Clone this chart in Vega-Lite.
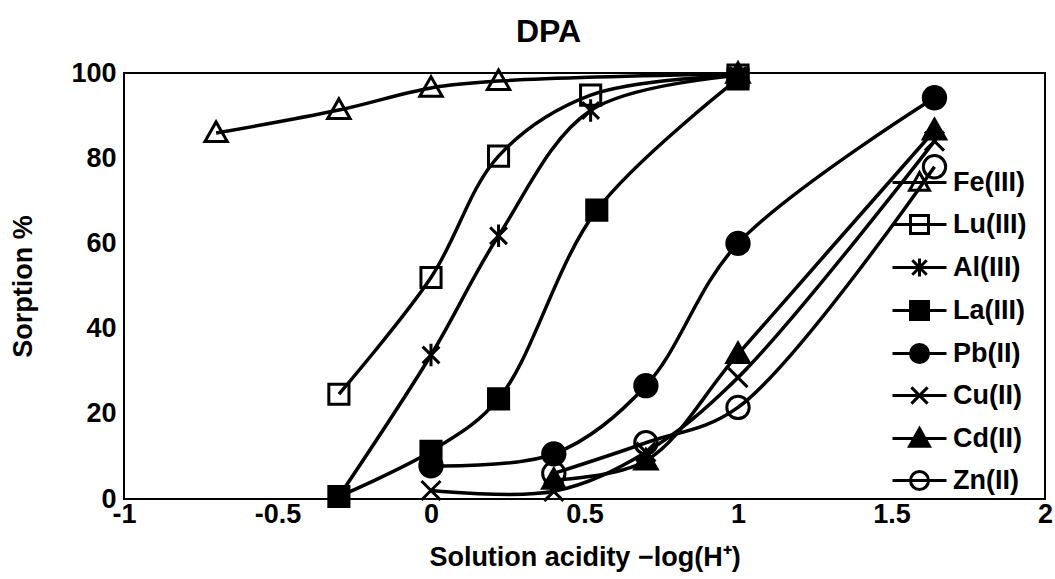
{
  "$schema": "https://vega.github.io/schema/vega-lite/v6.json",
  "width": 921,
  "height": 426,
  "autosize": {"type": "none"},
  "padding": {"left": 124, "top": 73, "right": 10, "bottom": 80},
  "background": "white",
  "title": {"text": "DPA", "fontSize": 32, "fontWeight": "bold", "font": "Liberation Sans", "color": "black", "anchor": "middle", "dx": -36, "offset": 8},
  "config": {"view": {"stroke": "black", "strokeWidth": 2}, "font": "Liberation Sans"},
  "data": {"values": [
    {"metal": "Fe(III)", "x": -0.7, "y": 85.9},
    {"metal": "Fe(III)", "x": -0.3, "y": 91.3},
    {"metal": "Fe(III)", "x": 0, "y": 96.5},
    {"metal": "Fe(III)", "x": 0.22, "y": 98.1},
    {"metal": "Fe(III)", "x": 1, "y": 99.8},
    {"metal": "Lu(III)", "x": -0.3, "y": 24.6},
    {"metal": "Lu(III)", "x": 0, "y": 52},
    {"metal": "Lu(III)", "x": 0.22, "y": 80.5},
    {"metal": "Lu(III)", "x": 0.52, "y": 94.8},
    {"metal": "Lu(III)", "x": 1, "y": 99.5},
    {"metal": "Al(III)", "x": -0.3, "y": 0.6},
    {"metal": "Al(III)", "x": 0, "y": 33.8},
    {"metal": "Al(III)", "x": 0.22, "y": 61.8},
    {"metal": "Al(III)", "x": 0.52, "y": 91.2},
    {"metal": "Al(III)", "x": 1, "y": 99.4},
    {"metal": "La(III)", "x": -0.3, "y": 0.6},
    {"metal": "La(III)", "x": 0, "y": 11.2},
    {"metal": "La(III)", "x": 0.22, "y": 23.5},
    {"metal": "La(III)", "x": 0.54, "y": 67.8},
    {"metal": "La(III)", "x": 1, "y": 98.6},
    {"metal": "Pb(II)", "x": 0, "y": 7.8},
    {"metal": "Pb(II)", "x": 0.4, "y": 10.6},
    {"metal": "Pb(II)", "x": 0.7, "y": 26.6},
    {"metal": "Pb(II)", "x": 1, "y": 60},
    {"metal": "Pb(II)", "x": 1.64, "y": 94.2},
    {"metal": "Cu(II)", "x": 0, "y": 2},
    {"metal": "Cu(II)", "x": 0.4, "y": 1.8},
    {"metal": "Cu(II)", "x": 0.7, "y": 11},
    {"metal": "Cu(II)", "x": 1, "y": 28.5},
    {"metal": "Cu(II)", "x": 1.64, "y": 84},
    {"metal": "Cd(II)", "x": 0.4, "y": 4.5},
    {"metal": "Cd(II)", "x": 0.7, "y": 9},
    {"metal": "Cd(II)", "x": 1, "y": 34},
    {"metal": "Cd(II)", "x": 1.64, "y": 86.5},
    {"metal": "Zn(II)", "x": 0.4, "y": 6},
    {"metal": "Zn(II)", "x": 0.7, "y": 13.2},
    {"metal": "Zn(II)", "x": 1, "y": 21.5},
    {"metal": "Zn(II)", "x": 1.64, "y": 78}
  ]},
  "encoding": {
    "x": {"field": "x", "type": "quantitative", "scale": {"domain": [-1, 2], "nice": false, "zero": false},
      "axis": {"title": "Solution acidity −log(H⁺)", "values": [-1, -0.5, 0, 0.5, 1, 1.5, 2], "format": ".1~f", "labelExpr": "replace(datum.label, '−', '-')", "ticks": false, "grid": false, "domain": false, "labelFlush": false, "labelOverlap": false, "labelFont": "Liberation Sans", "labelFontSize": 27, "labelFontWeight": "bold", "labelColor": "black", "labelPadding": 2, "titleFont": "Liberation Sans", "titleFontSize": 27, "titleFontWeight": "bold", "titleColor": "black", "titlePadding": 17}},
    "y": {"field": "y", "type": "quantitative", "scale": {"domain": [0, 100], "nice": false},
      "axis": {"title": "Sorption %", "values": [0, 20, 40, 60, 80, 100], "ticks": false, "grid": false, "domain": false, "labelFont": "Liberation Sans", "labelFontSize": 27, "labelFontWeight": "bold", "labelColor": "black", "labelPadding": 8, "titleFont": "Liberation Sans", "titleFontSize": 27, "titleFontWeight": "bold", "titleColor": "black", "titleX": -101, "titleY": 213, "titleBaseline": "middle", "titleAlign": "center", "titleAngle": -90}}
  },
  "layer": [
    {
      "mark": {"type": "line", "stroke": "black", "strokeWidth": 3.5, "interpolate": "catmull-rom"},
      "encoding": {"detail": {"field": "metal"}}
    },
    {
      "mark": {"type": "point", "filled": true, "stroke": "black", "strokeWidth": 3, "opacity": 1, "size": 500},
      "encoding": {
        "shape": {"field": "metal", "type": "nominal",
          "scale": {"domain": ["Al(III)", "Cd(II)", "Cu(II)", "Fe(III)", "La(III)", "Lu(III)", "Pb(II)", "Zn(II)"],
            "range": ["M-0.75,-0.75L0.75,0.75M-0.75,0.75L0.75,-0.75M0,-1V1", "M0,-1L1,0.75L-1,0.75Z", "M-0.85,-0.85L0.85,0.85M-0.85,0.85L0.85,-0.85", "M0,-1L1,0.75L-1,0.75Z", "M-0.9,-0.9H0.9V0.9H-0.9Z", "M-0.9,-0.9H0.9V0.9H-0.9Z", "circle", "circle"]},
          "legend": null},
        "fill": {"field": "metal", "type": "nominal",
          "scale": {"domain": ["Fe(III)", "Lu(III)", "Al(III)", "La(III)", "Pb(II)", "Cu(II)", "Cd(II)", "Zn(II)"],
            "range": ["transparent", "transparent", "black", "black", "black", "black", "black", "transparent"]},
          "legend": {"title": null, "orient": "none", "legendX": 782, "legendY": 96, "rowPadding": 12, "labelOffset": 20, "symbolSize": 324, "labelFont": "Liberation Sans", "labelFontSize": 27, "labelFontWeight": "bold", "labelColor": "black", "symbolStrokeColor": "black", "symbolStrokeWidth": 3,
            "symbolType": {"expr": "datum.value === 'Fe(III)' || datum.value === 'Cd(II)' ? 'M-3,0H3M0,-1.1L1.1,0.85L-1.1,0.85Z' : datum.value === 'Lu(III)' || datum.value === 'La(III)' ? 'M-3,0H3M-1,-1H1V1H-1Z' : datum.value === 'Al(III)' ? 'M-3,0H3M-0.8,-0.8L0.8,0.8M-0.8,0.8L0.8,-0.8M0,-1V1' : datum.value === 'Cu(II)' ? 'M-3,0H3M-0.9,-0.9L0.9,0.9M-0.9,0.9L0.9,-0.9' : 'M-3,0H3M1,0A1,1,0,1,1,-1,0A1,1,0,1,1,1,0Z'"}}}
      }
    }
  ]
}
